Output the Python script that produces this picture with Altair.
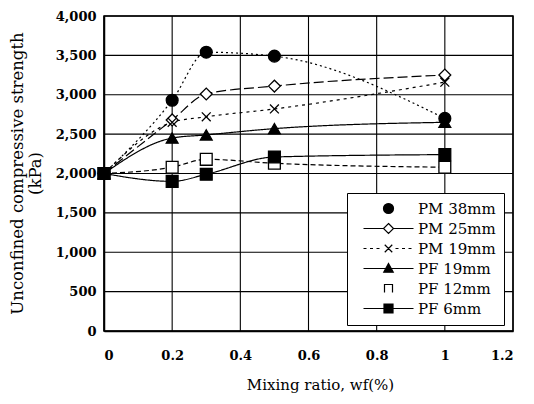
import altair as alt
import pandas as pd

series = ["PM 38mm", "PM 25mm", "PM 19mm", "PF 19mm", "PF 12mm", "PF 6mm"]
x_vals = [0, 0.2, 0.3, 0.5, 1.0]
pm38 = [2000, 2930, 3540, 3490, 2700]
pm25 = [2000, 2680, 3010, 3110, 3250]
pm19 = [2000, 2650, 2720, 2820, 3160]
pf19 = [2000, 2450, 2490, 2570, 2650]
pf12 = [2000, 2080, 2180, 2130, 2080]
pf6 = [2000, 1900, 1990, 2210, 2240]
x_ticks = [0, 0.2, 0.4, 0.6, 0.8, 1.0, 1.2]
y_ticks = [0, 500, 1000, 1500, 2000, 2500, 3000, 3500, 4000]

values = [pm38, pm25, pm19, pf19, pf12, pf6]
rows = []
for s, vals in zip(series, values):
    for x, y in zip(x_vals, vals):
        rows.append({"series": s, "marker": s, "x": x, "y": y})
df = pd.DataFrame(rows)
xgrid = pd.DataFrame({"x": x_ticks})
ygrid = pd.DataFrame({"y": y_ticks})

xmark = "M-0.75,-0.75L0.75,0.75M-0.75,0.75L0.75,-0.75"
plot_shapes = ["circle", "diamond", xmark, "triangle-up", "square", "square"]
fills = ["black", "white", "white", "black", "white", "black"]
dashes = [[2, 3], [10, 4], [3, 4], [1, 0], [5, 3], [1, 0]]

legend_shapes = [
    "circle",
    "M-5,0H-1M1,0H5M0,-1L1,0L0,1L-1,0Z",
    "M-5,0H-4.4M-3.7,0H-3.1M-2.4,0H-1.8M1.4,0H2.0M2.7,0H3.3M4.0,0H4.6" + xmark,
    "M-5,0H5M0,-1L0.95,0.75H-0.95Z",
    "M-0.8,0.8V-0.8H0.8V0.8",
    "M-5,0H5M-0.9,-0.9H0.9V0.9H-0.9Z",
]

font = "DejaVu Serif"
x_axis = alt.Axis(values=x_ticks, format="~g", grid=False, labelOverlap=False,
                  title="Mixing ratio, wf(%)")
y_axis = alt.Axis(values=y_ticks, format=",d", grid=False, labelOverlap=False,
                  title=["Unconfined compressive strength", "(kPa)"])
x_scale = alt.Scale(domain=[x_ticks[0], x_ticks[-1]], nice=False)
y_scale = alt.Scale(domain=[y_ticks[0], y_ticks[-1]], nice=False)
xs = alt.X("x:Q", scale=x_scale, axis=x_axis)
ys = alt.Y("y:Q", scale=y_scale, axis=y_axis)

vgrid = alt.Chart(xgrid).mark_rule(color="black", strokeWidth=1.1).encode(
    x=xs, y=alt.YDatum(y_ticks[0], axis=y_axis, scale=y_scale), y2=alt.datum(y_ticks[-1]))
hgrid = alt.Chart(ygrid).mark_rule(color="black", strokeWidth=1.1).encode(
    y=ys, x=alt.XDatum(x_ticks[0], axis=x_axis, scale=x_scale), x2=alt.datum(x_ticks[-1]))

lines = alt.Chart(df).mark_line(color="black", strokeWidth=1.2, interpolate="monotone").encode(
    x=xs, y=ys,
    detail="series:N",
    strokeDash=alt.StrokeDash("series:N", scale=alt.Scale(domain=series, range=dashes), legend=None),
)

points = alt.Chart(df).mark_point(size=140, opacity=1, stroke="black", strokeWidth=1.3).encode(
    x=xs, y=ys,
    shape=alt.Shape("marker:N", scale=alt.Scale(domain=series, range=plot_shapes), legend=None),
    fill=alt.Fill("marker:N", scale=alt.Scale(domain=series, range=fills), legend=None),
)

leg = alt.Chart(df).transform_filter("datum.x < 0").mark_point(
    size=110, opacity=1, stroke="black", strokeWidth=1.2).encode(
    x=xs, y=ys,
    shape=alt.Shape("series:N", scale=alt.Scale(domain=series, range=legend_shapes),
                    legend=alt.Legend(title=None, orient="none", legendX=243, legendY=177,
                                      fillColor="white", strokeColor="black", padding=8,
                                      symbolOffset=26, labelOffset=22, rowPadding=4,
                                      labelFont=font, labelFontSize=15, labelColor="black",
                                      symbolStrokeWidth=1.2)),
    fill=alt.Fill("series:N", scale=alt.Scale(domain=series, range=fills),
                  legend=alt.Legend(title=None, orient="none", legendX=243, legendY=177)),
)

chart = alt.layer(vgrid, hgrid, lines, points, leg).resolve_scale(
    shape="independent", fill="independent").properties(
    width=409, height=315, autosize="none",
    padding={"left": 96, "top": 8, "right": 13, "bottom": 65},
).configure_view(stroke="black", strokeWidth=1.5).configure_axis(
    domainColor="black", domainWidth=1.5, tickSize=0, labelOverlap=False,
    labelFont=font, labelFontSize=13, labelFontWeight="bold", labelColor="black",
    titleFont=font, titleFontSize=15, titleFontWeight="normal", titleColor="black",
).configure_axisX(labelPadding=18, titlePadding=15, titleX=216, titleAlign="center").configure_axisY(
    labelPadding=8, titleX=-87, titleY=157, titleAngle=270, titleAlign="center",
    titleBaseline="middle", titleLineHeight=18, titleFontSize=16.5)

chart.save("out.html", embed_options={"renderer": "svg", "actions": False})
